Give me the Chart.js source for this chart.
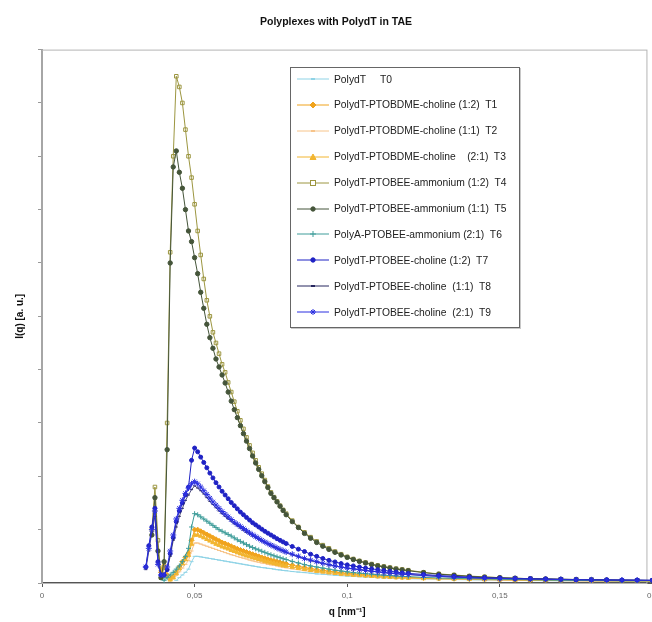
<!DOCTYPE html>
<html>
<head>
<meta charset="utf-8">
<script src="https://cdn.jsdelivr.net/npm/chart.js@4.4.1/dist/chart.umd.min.js"></script>
<style>
html, body { margin: 0; padding: 0; background: #fff; }
#wrap { position: relative; width: 652px; height: 622px; overflow: hidden; }
#wrap canvas { position: absolute; left: 0; top: 0; }
#legend {
    position: absolute; left: 290px; top: 67px; height: 259px;
    border: 1px solid #666; box-shadow: 1px 1px 0 #c8c8c8; background: #fff;
    font: 10.3px "Liberation Sans", Arial, sans-serif; color: #222;
}
.row { position: absolute; left: 0; height: 26px; display: flex; align-items: center; white-space: pre; }
.row svg { margin-left: 6px; margin-right: 5px; }
</style>
</head>
<body>
<div id="wrap">
<canvas id="chart" width="662" height="622"></canvas>
<div id="legend"></div>
</div>
<script>
// q grid [nm^-1]
const qValues = [
    0.034, 0.035, 0.036, 0.037, 0.038, 0.039, 0.040, 0.041, 0.042, 0.043,
    0.044, 0.045, 0.046, 0.047, 0.048, 0.049, 0.050, 0.051, 0.052, 0.053,
    0.054, 0.055, 0.056, 0.057, 0.058, 0.059, 0.060,
    0.061, 0.062, 0.063, 0.064, 0.065, 0.066, 0.067, 0.068, 0.069, 0.070,
    0.071, 0.072, 0.073, 0.074, 0.075, 0.076, 0.077, 0.078, 0.079, 0.080,
    0.082, 0.084, 0.086, 0.088, 0.090, 0.092, 0.094, 0.096, 0.098, 0.100,
    0.102, 0.104, 0.106, 0.108, 0.110, 0.112, 0.114, 0.116, 0.118, 0.120,
    0.125, 0.130, 0.135, 0.140, 0.145, 0.150, 0.155, 0.160,
    0.165, 0.170, 0.175, 0.180, 0.185, 0.190, 0.195, 0.200
];

const seriesLabels = [
    'PolydT     T0',
    'PolydT-PTOBDME-choline (1:2)  T1',
    'PolydT-PTOBDME-choline (1:1)  T2',
    'PolydT-PTOBDME-choline    (2:1)  T3',
    'PolydT-PTOBEE-ammonium (1:2)  T4',
    'PolydT-PTOBEE-ammonium (1:1)  T5',
    'PolyA-PTOBEE-ammonium (2:1)  T6',
    'PolydT-PTOBEE-choline (1:2)  T7',
    'PolydT-PTOBEE-choline  (1:1)  T8',
    'PolydT-PTOBEE-choline  (2:1)  T9'
];

const xTicks = [0, 0.05, 0.1, 0.15, 0.2];

// I(q) [a. u.]
const t0 = [null, null, null, null, null, null, null, null, null, null,
    0.5, 1, 1.5, 2, 2.6, 4, 5, 5, 4.9, 4.8,
    4.7, 4.6, 4.5, 4.4, 4.3, 4.2, 4.1,
    4.0, 3.9, 3.8, 3.7, 3.6, 3.5, 3.4, 3.3, 3.2, 3.1,
    3.0, 2.9, 2.85, 2.75, 2.7, 2.6, 2.5, 2.45, 2.35, 2.3,
    2.15, 2.05, 1.95, 1.85, 1.7, 1.65, 1.55, 1.45, 1.38, 1.3,
    1.24, 1.18, 1.12, 1.06, 1.0, 0.96, 0.92, 0.88, 0.84, 0.8,
    0.75, 0.7, 0.65, 0.6, 0.55, 0.5, 0.5, 0.45,
    0.45, 0.4, 0.4, 0.4, 0.35, 0.35, 0.35, 0.3];
const t1 = [null, null, null, null, null, 2, 3, 1.5, 0.8, 1.2,
    2, 3, 4, 4.8, 5.6, 8, 10, 10, 9.7, 9.4,
    9.1, 8.8, 8.5, 8.2, 7.9, 7.6, 7.4,
    7.15, 6.9, 6.65, 6.4, 6.2, 6.0, 5.8, 5.6, 5.4, 5.2,
    5.0, 4.8, 4.65, 4.45, 4.3, 4.15, 4.0, 3.85, 3.7, 3.6,
    3.35, 3.1, 2.9, 2.7, 2.5, 2.35, 2.2, 2.05, 1.9, 1.8,
    1.7, 1.6, 1.5, 1.42, 1.35, 1.28, 1.21, 1.15, 1.1, 1.05,
    0.95, 0.85, 0.8, 0.75, 0.7, 0.65, 0.6, 0.55,
    0.5, 0.5, 0.45, 0.45, 0.4, 0.4, 0.4, 0.35];
const t2 = [null, null, null, null, null, null, 2, 1, 0.5, 0.8,
    1.4, 2.1, 2.8, 3.5, 4.2, 6, 7.5, 7.5, 7.3, 7.1,
    6.9, 6.7, 6.5, 6.3, 6.1, 5.9, 5.7,
    5.5, 5.3, 5.15, 4.95, 4.8, 4.65, 4.5, 4.3, 4.15, 4.0,
    3.9, 3.75, 3.65, 3.5, 3.4, 3.3, 3.2, 3.05, 2.95, 2.85,
    2.65, 2.5, 2.3, 2.15, 2.0, 1.9, 1.75, 1.65, 1.55, 1.45,
    1.37, 1.29, 1.21, 1.15, 1.1, 1.04, 0.98, 0.93, 0.89, 0.85,
    0.8, 0.75, 0.7, 0.65, 0.6, 0.55, 0.5, 0.5,
    0.45, 0.45, 0.4, 0.4, 0.4, 0.35, 0.35, 0.35];
const t3 = [null, null, null, null, null, 2.5, 3.5, 1.2, 0.6, 1,
    1.8, 2.7, 3.6, 4.4, 5.2, 7.3, 9, 9, 8.8, 8.5,
    8.2, 7.9, 7.6, 7.3, 7.1, 6.8, 6.6,
    6.4, 6.15, 5.95, 5.7, 5.5, 5.3, 5.1, 4.95, 4.75, 4.6,
    4.45, 4.3, 4.1, 3.95, 3.8, 3.7, 3.55, 3.45, 3.3, 3.2,
    3.0, 2.8, 2.6, 2.4, 2.25, 2.1, 1.95, 1.85, 1.7, 1.6,
    1.5, 1.42, 1.35, 1.27, 1.2, 1.14, 1.08, 1.02, 0.98, 0.95,
    0.85, 0.8, 0.75, 0.7, 0.65, 0.6, 0.55, 0.5,
    0.5, 0.45, 0.45, 0.4, 0.4, 0.4, 0.35, 0.35];
const t4 = [null, null, 10, 18, 8, 1, 3, 30, 62, 80,
    95, 93, 90, 85, 80, 76, 71, 66, 61.5, 57,
    53, 50, 47, 45, 43, 41, 39.5,
    37.6, 35.8, 34, 32.2, 30.5, 28.9, 27.3, 25.8, 24.4, 23,
    21.7, 20.5, 19.3, 18.1, 17, 16.1, 15.3, 14.5, 13.7, 13,
    11.7, 10.5, 9.5, 8.6, 7.8, 7.1, 6.5, 5.9, 5.4, 4.9,
    4.5, 4.15, 3.85, 3.55, 3.3, 3.1, 2.9, 2.7, 2.55, 2.4,
    2.0, 1.7, 1.5, 1.3, 1.15, 1.0, 0.9, 0.8,
    0.75, 0.7, 0.65, 0.6, 0.55, 0.5, 0.5, 0.45];
const t5 = [null, null, 9, 16, 6, 1, 4, 25, 60, 78,
    81, 77, 74, 70, 66, 64, 61, 58, 54.5, 51.5,
    48.5, 46, 44, 42, 40.5, 39, 37.5,
    35.8, 34.1, 32.5, 31, 29.5, 28, 26.6, 25.2, 23.8, 22.5,
    21.3, 20.1, 19, 17.9, 16.8, 16, 15.2, 14.4, 13.6, 12.8,
    11.5, 10.4, 9.3, 8.4, 7.6, 6.9, 6.3, 5.75, 5.25, 4.8,
    4.4, 4.05, 3.75, 3.45, 3.2, 3.0, 2.8, 2.6, 2.45, 2.3,
    1.95, 1.65, 1.45, 1.25, 1.1, 1.0, 0.9, 0.8,
    0.75, 0.7, 0.65, 0.6, 0.55, 0.5, 0.5, 0.45];
const t6 = [null, null, null, null, null, null, 0.5, 1, 1.5, 2,
    2.6, 3.2, 4, 5, 6.5, 10.5, 13, 12.8, 12.4, 12,
    11.6, 11.2, 10.8, 10.4, 10, 9.7, 9.4,
    9.1, 8.8, 8.45, 8.1, 7.8, 7.5, 7.2, 6.9, 6.65, 6.4,
    6.2, 5.95, 5.75, 5.5, 5.3, 5.1, 4.9, 4.75, 4.55, 4.4,
    4.05, 3.75, 3.45, 3.2, 3.0, 2.8, 2.6, 2.4, 2.25, 2.1,
    1.95, 1.85, 1.75, 1.65, 1.55, 1.45, 1.4, 1.3, 1.25, 1.2,
    1.05, 0.95, 0.85, 0.8, 0.75, 0.7, 0.65, 0.6,
    0.55, 0.5, 0.5, 0.45, 0.45, 0.4, 0.4, 0.4];
const t7 = [3, 7, 10.5, 14, 4, 1.5, 1.5, 2.5, 5.5, 8.5,
    11.5, 13.5, 15, 16.5, 18, 23, 25.3, 24.6, 23.6, 22.6,
    21.6, 20.6, 19.7, 18.8, 18, 17.2, 16.5,
    15.8, 15.1, 14.5, 13.9, 13.3, 12.8, 12.3, 11.8, 11.3, 10.9,
    10.5, 10.1, 9.7, 9.35, 9.0, 8.65, 8.3, 8.0, 7.7, 7.4,
    6.85, 6.35, 5.9, 5.4, 5.0, 4.6, 4.25, 3.95, 3.65, 3.4,
    3.2, 3.0, 2.8, 2.65, 2.5, 2.35, 2.2, 2.05, 1.9, 1.8,
    1.6, 1.4, 1.25, 1.1, 1.0, 0.9, 0.85, 0.8,
    0.75, 0.7, 0.65, 0.6, 0.6, 0.55, 0.55, 0.5];
const t8 = [2.5, 6, 9.5, 12.5, 3.5, 1.5, 1.5, 2.5, 5, 8,
    10.5, 12.5, 14, 15.5, 16.5, 17.5, 18.2, 17.8, 17.3, 16.7,
    16, 15.3, 14.7, 14.1, 13.5, 13, 12.5,
    12.0, 11.6, 11.1, 10.7, 10.3, 9.9, 9.5, 9.2, 8.8, 8.5,
    8.2, 7.9, 7.6, 7.3, 7.0, 6.7, 6.45, 6.2, 5.95, 5.7,
    5.3, 4.9, 4.55, 4.2, 3.9, 3.65, 3.4, 3.2, 3.0, 2.8,
    2.65, 2.5, 2.35, 2.2, 2.1, 1.95, 1.85, 1.75, 1.65, 1.6,
    1.4, 1.25, 1.1, 1.0, 0.9, 0.85, 0.8, 0.75,
    0.7, 0.65, 0.6, 0.6, 0.55, 0.55, 0.5, 0.5];
const t9 = [3, 6.5, 10, 13.5, 3.5, 1.5, 1.5, 3, 6, 9,
    12, 14, 15.5, 16.8, 17.8, 18.6, 19, 18.6, 18, 17.3,
    16.6, 15.9, 15.2, 14.6, 14, 13.4, 12.9,
    12.4, 11.9, 11.4, 11.0, 10.6, 10.2, 9.8, 9.4, 9.05, 8.7,
    8.35, 8.0, 7.7, 7.4, 7.1, 6.85, 6.55, 6.3, 6.05, 5.8,
    5.4, 5.0, 4.6, 4.3, 4.0, 3.7, 3.45, 3.2, 3.0, 2.8,
    2.65, 2.5, 2.35, 2.2, 2.1, 1.95, 1.85, 1.75, 1.65, 1.6,
    1.4, 1.25, 1.1, 1.0, 0.9, 0.85, 0.8, 0.75,
    0.7, 0.65, 0.6, 0.6, 0.55, 0.55, 0.5, 0.5];

const seriesValues = [t0, t1, t2, t3, t4, t5, t6, t7, t8, t9];

// styles
const lineColors = ['#8fd3e6', '#f0a31c', '#f7c48a', '#f2b530', '#9c9640', '#45553a', '#3f9d9a', '#1f22c4', '#26265e', '#2b2fe0'];
const fillColors = ['#8fd3e6', '#f0a31c', '#f7c48a', '#f2b530', 'rgba(255,255,255,0)', '#45553a', '#3f9d9a', '#1f22c4', '#26265e', '#2b2fe0'];
const markerStyles = ['line', 'rectRot', 'line', 'triangle', 'rect', 'circle', 'cross', 'circle', 'line', 'star'];
const markerSizes = [2, 2.5, 2, 2.5, 2.5, 2.2, 2.5, 2, 1.5, 3];
const lineWidths = [1, 1, 1, 1, 1, 1, 1, 1, 0.8, 1];

const font = '"Liberation Sans", Arial, sans-serif';

// light frame round the plot area (top and right edges)
const plotFrame = {
    id: 'plotFrame',
    beforeDatasetsDraw(chart) {
        const { ctx, chartArea: a } = chart;
        ctx.save();
        ctx.strokeStyle = '#b4b4b4';
        ctx.lineWidth = 1;
        ctx.strokeRect(a.left, a.top + 0.5, a.right - a.left - 5.5, a.bottom - a.top);
        ctx.restore();
    }
};

const datasets = seriesValues.map((vals, i) => ({
    label: seriesLabels[i],
    data: qValues.map((q, j) => ({ x: q, y: vals[j] })),
    borderColor: lineColors[i],
    backgroundColor: fillColors[i],
    pointStyle: markerStyles[i],
    pointRadius: markerSizes[i],
    pointBorderColor: lineColors[i],
    pointBorderWidth: 1,
    borderWidth: lineWidths[i],
    order: 9 - i
}));

new Chart(document.getElementById('chart'), {
    type: 'line',
    data: { datasets },
    options: {
        responsive: false,
        animation: false,
        layout: { padding: { left: 19, right: 9, top: 0, bottom: 0 } },
        plugins: {
            legend: { display: false },
            tooltip: { enabled: false },
            title: {
                display: true,
                text: 'Polyplexes with PolydT in TAE',
                color: '#111',
                font: { family: font, size: 10.5, weight: 'bold' },
                padding: { top: 16, bottom: 21 }
            }
        },
        scales: {
            x: {
                type: 'linear',
                min: 0,
                max: 0.2,
                afterBuildTicks: s => { s.ticks = xTicks.map(v => ({ value: v })); },
                afterFit: s => { s.height = 39; },
                ticks: {
                    color: '#666',
                    font: { family: font, size: 8 },
                    padding: 4,
                    maxRotation: 0,
                    autoSkip: false,
                    callback: v => String(Math.round(v * 100) / 100).replace('.', ',')
                },
                grid: { drawOnChartArea: false, tickLength: 4, color: '#555' },
                border: { color: '#555', width: 2 },
                title: {
                    display: true,
                    text: 'q [nm⁻¹]',
                    color: '#111',
                    font: { family: font, size: 10, weight: 'bold' },
                    padding: { top: 0, bottom: 4 }
                }
            },
            y: {
                min: 0,
                max: 100,
                afterFit: s => { s.width = 23; },
                ticks: { stepSize: 10, display: false },
                grid: { drawOnChartArea: false, tickLength: 4, color: '#999' },
                border: { color: '#999', width: 2 },
                title: {
                    display: true,
                    text: 'I(q) [a. u.]',
                    color: '#111',
                    font: { family: font, size: 10, weight: 'bold' },
                    padding: { top: -5, bottom: 0 }
                }
            }
        }
    },
    plugins: [plotFrame]
});

// legend box, drawn as html
const markerSvg = (style, color, fill) => {
    switch (style) {
        case 'rectRot': return `<polygon points="16,3 19,6 16,9 13,6" fill="${fill}" stroke="${color}"/>`;
        case 'triangle': return `<polygon points="16,3 19,8.5 13,8.5" fill="${fill}" stroke="${color}"/>`;
        case 'rect': return `<rect x="13.5" y="3.5" width="5" height="5" fill="#fff" stroke="${color}"/>`;
        case 'circle': return `<circle cx="16" cy="6" r="2.2" fill="${fill}" stroke="${color}"/>`;
        case 'cross': return `<path d="M16 3V9M13 6H19" stroke="${color}"/>`;
        case 'star': return `<path d="M16 3V9M13 6H19M14 4L18 8M18 4L14 8" stroke="${color}"/>`;
        default: return `<path d="M14 6H18" stroke="${color}" stroke-width="2"/>`;
    }
};

const legendEl = document.getElementById('legend');
let widest = 0;
seriesLabels.forEach((label, i) => {
    const row = document.createElement('div');
    row.className = 'row';
    row.style.top = (i * 25.9 - 2) + 'px';
    row.innerHTML = `<svg width="32" height="12"><path d="M0 6H32" stroke="${lineColors[i]}" stroke-width="1"/>${markerSvg(markerStyles[i], lineColors[i], fillColors[i])}</svg><span></span>`;
    row.querySelector('span').textContent = label;
    legendEl.appendChild(row);
    widest = Math.max(widest, row.getBoundingClientRect().width);
});
legendEl.style.width = Math.ceil(widest + 12) + 'px';
</script>
</body>
</html>
